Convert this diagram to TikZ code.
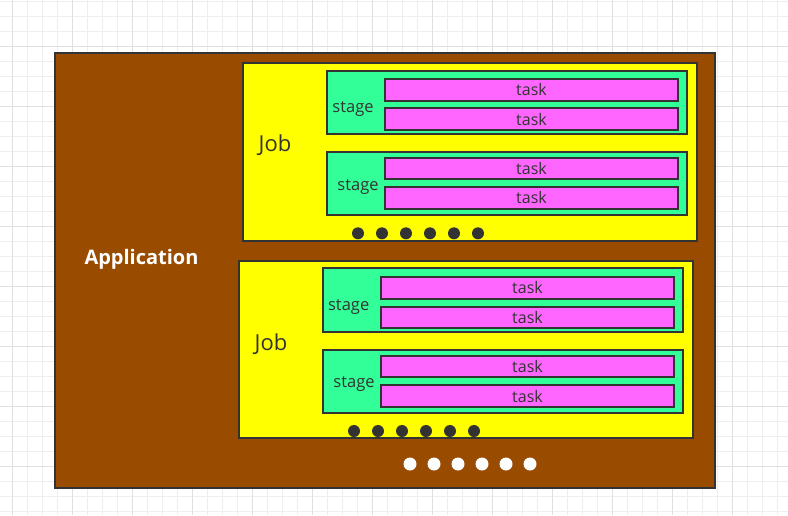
\documentclass[tikz,border=0pt]{standalone}
\usepackage{fontspec}
\setmainfont{Open Sans}
\usetikzlibrary{fit}
\definecolor{appbrown}{RGB}{153,76,0}
\definecolor{jobyellow}{RGB}{255,255,0}
\definecolor{stagegreen}{RGB}{51,255,153}
\definecolor{taskpink}{RGB}{255,102,255}
\definecolor{edge}{RGB}{51,51,51}
\definecolor{gridminor}{RGB}{238,238,238}
\definecolor{gridmajor}{RGB}{224,224,224}
\tikzset{
  boxbase/.style={draw=edge, line width=1.8pt, inner sep=0pt, outer sep=0pt},
  appbox/.style={boxbase, fill=appbrown},
  jobbox/.style={boxbase, fill=jobyellow},
  stagebox/.style={boxbase, fill=stagegreen},
  taskbox/.style={boxbase, fill=taskpink},
  tasktext/.style={text=edge, font=\fontsize{16}{18}\selectfont, inner sep=0pt},
  stagetext/.style={text=edge, font=\fontsize{16.5}{19}\selectfont, inner sep=0pt, anchor=base},
  jobtext/.style={text=edge, font=\fontsize{22}{26}\selectfont, inner sep=0pt, anchor=base},
  apptext/.style={text=white, font=\bfseries\fontsize{20}{24}\selectfont, inner sep=0pt, anchor=base},
  darkdot/.style={fill=edge, draw=none},
  whitedot/.style={fill=white, draw=none}
}
\begin{document}
\begin{tikzpicture}[x=1pt, y=-1pt]
\useasboundingbox (0,0) rectangle (788,515);
\fill[white] (0,0) rectangle (788,515);
% grid
\foreach \k in {0,...,51} {\draw[gridminor, line width=1pt] ({12.3+15*\k},0) -- ({12.3+15*\k},515);}
\foreach \k in {0,...,34} {\draw[gridminor, line width=1pt] (0,{1+15*\k}) -- (788,{1+15*\k});}
\foreach \k in {0,...,12} {\draw[gridmajor, line width=1pt] ({12.3+60*\k},0) -- ({12.3+60*\k},515);}
\foreach \k in {0,...,8} {\draw[gridmajor, line width=1pt] (0,{46+60*\k}) -- (788,{46+60*\k});}
% application
\node[appbox, fit={(55,53) (715,488)}] (app) {};
\node[apptext] (apptxt) at (141.5,264.3) {Application};
% job 1
\node[jobbox, fit={(243,63) (697,241)}] (job1) {};
\node[jobtext] (job1txt) at (275,151.7) {Job};
\node[stagebox, fit={(327,71) (687,134)}] (s11) {};
\node[stagetext] (s11txt) at (353,112.7) {stage};
\node[taskbox, fit={(385,78.7) (678,100.7)}, label={[tasktext]center:task}] (t111) {};
\node[taskbox, fit={(385,108.3) (678,130.3)}, label={[tasktext]center:task}] (t112) {};
\node[stagebox, fit={(327,152) (687,215)}] (s12) {};
\node[stagetext] (s12txt) at (358,190) {stage};
\node[taskbox, fit={(385,157.7) (678,179)}, label={[tasktext]center:task}] (t121) {};
\node[taskbox, fit={(385,186.7) (678,209)}, label={[tasktext]center:task}] (t122) {};
\foreach \k in {0,...,5} {\fill[darkdot] ({358+24*\k},233.3) circle (6);}
% job 2
\node[jobbox, fit={(239,261) (693,438)}] (job2) {};
\node[jobtext] (job2txt) at (271,350) {Job};
\node[stagebox, fit={(323,268.3) (683,332)}] (s21) {};
\node[stagetext] (s21txt) at (348.7,310) {stage};
\node[taskbox, fit={(381,276.7) (674,299)}, label={[tasktext]center:task}] (t211) {};
\node[taskbox, fit={(381,306.7) (674,328.3)}, label={[tasktext]center:task}] (t212) {};
\node[stagebox, fit={(323,349.7) (683,413)}] (s22) {};
\node[stagetext] (s22txt) at (354,387.7) {stage};
\node[taskbox, fit={(381,355.7) (674,377)}, label={[tasktext]center:task}] (t221) {};
\node[taskbox, fit={(381,385) (674,407)}, label={[tasktext]center:task}] (t222) {};
\foreach \k in {0,...,5} {\fill[darkdot] ({354+24*\k},431) circle (6);}
% application-level dots
\foreach \k in {0,...,5} {\fill[whitedot] ({410+24*\k},464) circle (6.5);}
\end{tikzpicture}
\end{document}
